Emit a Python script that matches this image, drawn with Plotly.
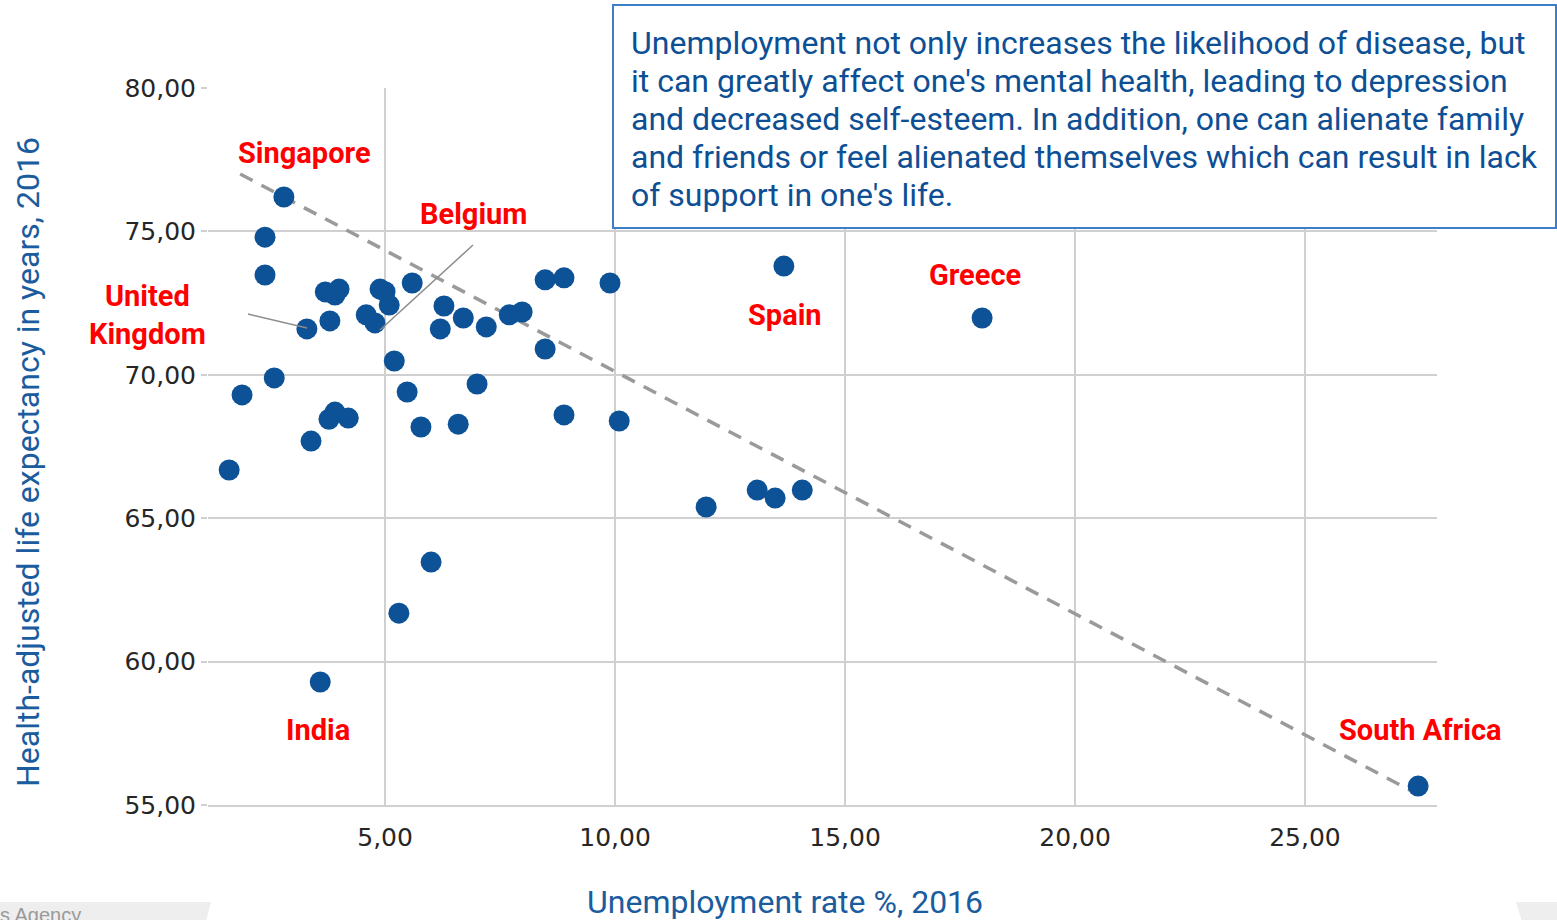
"""
Arbeitslosigkeit vs. gesundheitsbereinigte Lebenserwartung 2016 (Scatter mit Trendlinie)
"""

import plotly.graph_objects as go

# Arbeitslosenquote in %, 2016
unemployment = [
    1.61, 1.89, 2.39, 2.39, 2.59, 2.80, 3.30, 3.39, 3.59, 3.70,
    3.80, 3.91, 4.00, 3.78, 3.91, 4.20, 4.59, 4.78, 4.89, 5.00,
    5.09, 5.20, 5.48, 5.30, 5.59, 5.78, 6.00, 6.20, 6.28, 6.59,
    6.70, 7.00, 7.20, 7.70, 7.98, 8.48, 8.89, 8.48, 8.89, 9.89,
    10.09, 11.98, 13.09, 13.48, 14.07, 13.67, 17.98, 27.46,
]
# Gesundheitsbereinigte Lebenserwartung in Jahren, 2016
hale = [
    66.68, 69.30, 74.80, 73.48, 69.89, 76.20, 71.60, 67.69, 59.29, 72.89,
    71.88, 72.78, 72.99, 68.45, 68.70, 68.49, 72.09, 71.81, 72.99, 72.90,
    72.43, 70.48, 69.40, 61.69, 73.20, 68.18, 63.47, 71.60, 72.40, 68.28,
    71.98, 69.68, 71.67, 72.09, 72.19, 73.31, 73.38, 70.90, 68.60, 73.20,
    68.39, 65.39, 65.98, 65.70, 65.98, 73.79, 71.98, 55.66,
]

# Lineare Trendlinie
trend_x = [1.85, 27.28]
trend_y = [77.0, 55.52]

x_tickvals = [5, 10, 15, 20, 25]
x_ticktext = ['5,00', '10,00', '15,00', '20,00', '25,00']
y_tickvals = [55, 60, 65, 70, 75, 80]
y_ticktext = ['55,00', '60,00', '65,00', '70,00', '75,00', '80,00']

country_names = ['Singapore', 'Belgium', 'United<br>Kingdom', 'Spain',
                 'Greece', 'India', 'South Africa']

note_lines = [
    "Unemployment not only increases the likelihood of disease, but",
    "it can greatly affect one's mental health, leading to depression",
    "and decreased self-esteem. In addition, one can alienate family",
    "and friends or feel alienated themselves which can result in lack",
    "of support in one's life.",
]

W, H = 1557, 920
PL, PR, PT, PB = 208, 1437, 88, 805


def px_x(px):
    """Pixel -> Paper (x)"""
    return (px - PL) / (PR - PL)


def px_y(py):
    """Pixel -> Paper (y)"""
    return (PB - py) / (PB - PT)


# Label-Positionen in Pixeln (Mittelpunkt)
label_pos = [(304, 153), (473, 214), (147, 315), (785, 315),
             (975, 275), (318, 730), (1420, 730)]

fig = go.Figure()

fig.add_trace(go.Scatter(
    x=trend_x, y=trend_y,
    mode='lines',
    line={'color': '#9a9a9a', 'width': 3.5, 'dash': '14px,10px'},
    hoverinfo='skip',
    showlegend=False
))

fig.add_trace(go.Scatter(
    x=unemployment, y=hale,
    mode='markers',
    marker={'size': 21, 'color': '#0d5296', 'line': {'width': 0}},
    showlegend=False
))

shapes = []
# Hinweislinien
shapes.append({'type': 'line', 'xref': 'paper', 'yref': 'paper',
               'x0': px_x(473), 'y0': px_y(245), 'x1': px_x(380), 'y1': px_y(330),
               'line': {'color': '#8c8c8c', 'width': 1.5}})
shapes.append({'type': 'line', 'xref': 'paper', 'yref': 'paper',
               'x0': px_x(248), 'y0': px_y(314), 'x1': px_x(307), 'y1': px_y(328),
               'line': {'color': '#8c8c8c', 'width': 1.5}})
# Textkasten
shapes.append({'type': 'rect', 'xref': 'paper', 'yref': 'paper',
               'x0': px_x(613), 'y0': px_y(228), 'x1': px_x(1556), 'y1': px_y(5),
               'fillcolor': 'white', 'line': {'color': '#3c7ec8', 'width': 2},
               'layer': 'above'})
# Fußzeilen-Reste
shapes.append({'type': 'path', 'xref': 'paper', 'yref': 'paper',
               'path': f'M {px_x(-5)},{px_y(902)} L {px_x(211)},{px_y(902)} '
                       f'L {px_x(205)},{px_y(925)} L {px_x(-5)},{px_y(925)} Z',
               'fillcolor': '#eeeeee', 'line': {'width': 0}, 'layer': 'below'})
shapes.append({'type': 'path', 'xref': 'paper', 'yref': 'paper',
               'path': f'M {px_x(1516)},{px_y(902)} L {px_x(1562)},{px_y(902)} '
                       f'L {px_x(1562)},{px_y(925)} L {px_x(1523)},{px_y(925)} Z',
               'fillcolor': '#eeeeee', 'line': {'width': 0}, 'layer': 'below'})

annotations = []
for text, (lx, ly) in zip(country_names, label_pos):
    annotations.append({
        'text': f'<b>{text}</b>', 'x': px_x(lx), 'y': px_y(ly),
        'xref': 'paper', 'yref': 'paper',
        'showarrow': False, 'xanchor': 'center', 'yanchor': 'middle',
        'font': {'family': 'Roboto', 'size': 29, 'color': '#ff0000'}
    })

for i, line in enumerate(note_lines):
    annotations.append({
        'text': line, 'xref': 'paper', 'yref': 'paper',
        'x': px_x(629), 'y': px_y(43 + 38 * i), 'xanchor': 'left', 'yanchor': 'middle',
        'showarrow': False,
        'font': {'family': 'Roboto', 'size': 32, 'color': '#0d4f94'}
    })

# Achsentitel (nicht mittig zum Plotbereich)
annotations.append({
    'text': 'Unemployment rate %, 2016', 'xref': 'paper', 'yref': 'paper',
    'x': px_x(785), 'y': px_y(902), 'xanchor': 'center', 'yanchor': 'middle',
    'showarrow': False,
    'font': {'family': 'Roboto', 'size': 32, 'color': '#1a5c9e'}
})
annotations.append({
    'text': 'Health-adjusted life expectancy in years, 2016',
    'xref': 'paper', 'yref': 'paper', 'textangle': -90,
    'x': px_x(28), 'y': px_y(462), 'xanchor': 'center', 'yanchor': 'middle',
    'showarrow': False,
    'font': {'family': 'Roboto', 'size': 32, 'color': '#1a5c9e'}
})

annotations.append({
    'text': 's Agency', 'xref': 'paper', 'yref': 'paper',
    'x': px_x(-2), 'y': px_y(902), 'xanchor': 'left', 'yanchor': 'top',
    'showarrow': False,
    'font': {'family': 'Liberation Sans', 'size': 20, 'color': '#9a9a9a'}
})

fig.update_layout(
    shapes=shapes,
    annotations=annotations,
    width=W,
    height=H,
    margin={'l': PL, 'r': W - PR, 't': PT, 'b': H - PB, 'pad': 0},
    plot_bgcolor='white',
    paper_bgcolor='white',
    xaxis={
        'range': [1.15, 27.87],
        'tickvals': x_tickvals,
        'ticktext': x_ticktext,
        'showgrid': True,
        'gridcolor': '#d0d0d0',
        'gridwidth': 1.5,
        'zeroline': False,
        'showline': True,
        'linecolor': '#d0d0d0',
        'linewidth': 1.5,
        'ticks': '',
        'ticklabelstandoff': 9,
        'tickfont': {'family': 'DejaVu Sans', 'size': 25, 'color': '#262626'},
    },
    yaxis={
        'range': [55, 80],
        'tickvals': y_tickvals,
        'ticktext': y_ticktext,
        'showgrid': True,
        'gridcolor': '#d0d0d0',
        'gridwidth': 1.5,
        'zeroline': False,
        'showline': False,
        'ticks': 'outside',
        'ticklen': 6,
        'tickcolor': '#d0d0d0',
        'tickwidth': 1.5,
        'tickfont': {'family': 'DejaVu Sans', 'size': 25, 'color': '#262626'},
    },
)

fig.write_html("out.html", config={'displayModeBar': False},
               post_script="document.body.style.margin='0px';")
